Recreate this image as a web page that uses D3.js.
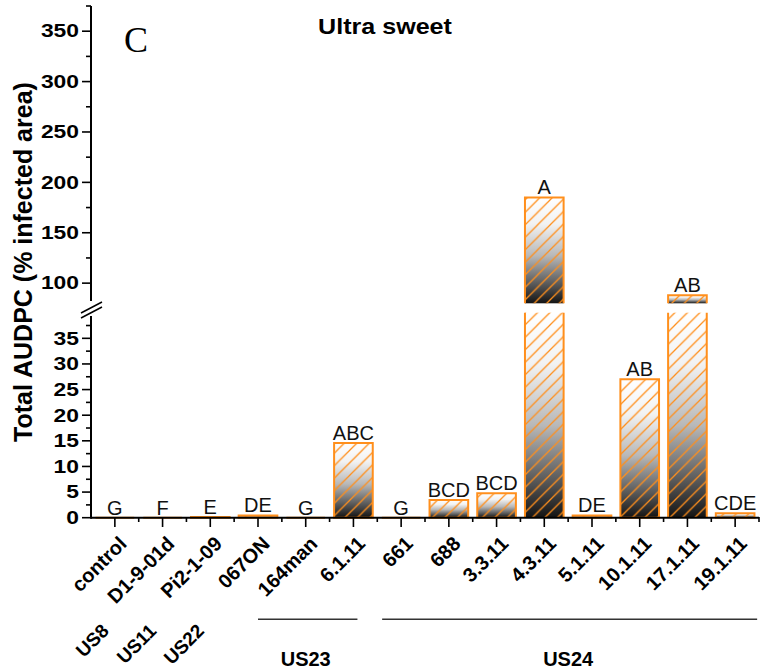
<!DOCTYPE html>
<html>
<head>
<meta charset="utf-8">
<script src="https://cdn.jsdelivr.net/npm/d3@7"></script>
<style>
  html, body { margin: 0; padding: 0; background: #fff; }
  svg { display: block; }
  text { font-family: "Liberation Sans", Arial, sans-serif; }
</style>
</head>
<body>
<svg id="chart" width="760" height="672"></svg>
<script>
// Isolates on the x axis
const isolates = ["control", "D1-9-01d", "Pi2-1-09", "067ON", "164man", "6.1.11",
  "661", "688", "3.3.11", "4.3.11", "5.1.11", "10.1.11", "17.1.11", "19.1.11"];
// Total AUDPC for each isolate on 'Ultra sweet'
const audpc = [0, 0, 0.15, 0.45, 0, 14.6, 0, 3.45, 4.75, 185, 0.45, 27, 88, 0.85];
// Significance letters above the bars
const letters = ["G", "F", "E", "DE", "G", "ABC", "G", "BCD", "BCD", "A", "DE", "AB", "AB", "CDE"];
// Single-isolate lineages written under their isolate
const singleLineages = [["US8", "control"], ["US11", "D1-9-01d"], ["US22", "Pi2-1-09"]];
// Lineages spanning several isolates, with the first and last isolate of the bracket
const lineageGroups = [["US23", "067ON", "6.1.11"], ["US24", "661", "19.1.11"]];
// Axis ticks on both sides of the break
const lowerTicks = [0, 5, 10, 15, 20, 25, 30, 35];
const upperTicks = [100, 150, 200, 250, 300, 350];

const svg = d3.select("#chart");
const orange = "#ff8f1c";
const left = 91, right = 759;

const x = d3.scaleBand().domain(isolates).range([left, right]).padding(0);
const barW = x.bandwidth() * 0.81;
const cx = d => x(d) + x.bandwidth() / 2;

// broken y axis: 0–40 below, 80–375 above
const yLow = d3.scaleLinear().domain([0, 40]).range([517.7, 312.7]);
const yHigh = d3.scaleLinear().domain([80, 375]).range([303.3, 6]);

const defs = svg.append("defs");
const grad = defs.append("linearGradient").attr("id", "shade")
  .attr("x1", 0).attr("y1", 0).attr("x2", 0).attr("y2", 1);
[[0, "#ffffff"], [0.25, "#f2f2f2"], [0.55, "#b8b8b8"], [0.8, "#606060"], [1, "#141414"]]
  .forEach(([o, c]) => grad.append("stop").attr("offset", o).attr("stop-color", c));
const hatch = defs.append("pattern").attr("id", "hatch")
  .attr("patternUnits", "userSpaceOnUse").attr("width", 12.5).attr("height", 12.5);
hatch.append("path").attr("d", "M-3,3 l6,-6 M0,12.5 l12.5,-12.5 M9.5,15.5 l6,-6")
  .attr("stroke", orange).attr("stroke-width", 1.3).attr("fill", "none");

// bars
const bars = svg.append("g");
isolates.forEach((name, i) => {
  const v = audpc[i];
  const x0 = cx(name) - barW / 2, x1 = x0 + barW;
  const segs = [];
  if (v <= 40) {
    segs.push({ top: yLow(v), bot: yLow(0), kind: "full" });
  } else {
    segs.push({ top: yLow(40), bot: yLow(0), kind: "lower" });
    segs.push({ top: yHigh(v), bot: yHigh(80), kind: "upper" });
  }
  segs.forEach(s => {
    const h = Math.max(s.bot - s.top, 0);
    if (h > 0.5) {
      bars.append("rect").attr("x", x0).attr("y", s.top).attr("width", barW).attr("height", h)
        .attr("fill", "url(#shade)");
      bars.append("rect").attr("x", x0).attr("y", s.top).attr("width", barW).attr("height", h)
        .attr("fill", "url(#hatch)");
    }
    let d;
    if (s.kind === "full") d = `M${x0},${s.bot}V${s.top}H${x1}V${s.bot}Z`;
    else if (s.kind === "lower") d = `M${x0},${s.bot}V${s.top}M${x1},${s.top}V${s.bot}`;
    else d = `M${x0},${s.bot}V${s.top}H${x1}V${s.bot}`;
    bars.append("path").attr("d", d).attr("fill", "none")
      .attr("stroke", orange).attr("stroke-width", 2);
  });
  const topY = v <= 40 ? yLow(v) : yHigh(v);
  bars.append("text").attr("x", cx(name)).attr("y", topY - 3)
    .attr("text-anchor", "middle").attr("font-size", 20).attr("fill", "#111")
    .text(letters[i]);
});

// x axis
const xAxis = svg.append("g");
xAxis.append("line").attr("x1", left).attr("x2", right).attr("y1", 517.7).attr("y2", 517.7)
  .attr("stroke", "#000").attr("stroke-width", 2);
isolates.forEach(name => {
  xAxis.append("line").attr("x1", cx(name)).attr("x2", cx(name))
    .attr("y1", 517).attr("y2", 527).attr("stroke", "#000").attr("stroke-width", 1.6);
  xAxis.append("line").attr("x1", x(name) + x.bandwidth()).attr("x2", x(name) + x.bandwidth())
    .attr("y1", 517).attr("y2", 522).attr("stroke", "#000").attr("stroke-width", 1.6);
  xAxis.append("text").attr("font-size", 20).attr("font-weight", "bold")
    .attr("text-anchor", "end")
    .attr("transform", `translate(${cx(name) + 13},${545}) rotate(-45)`)
    .text(name);
});

// y axis, drawn in two parts around the break
function yPart(scale, majors, minorStep, y0, y1) {
  const g = svg.append("g");
  g.append("line").attr("x1", left).attr("x2", left).attr("y1", y0).attr("y2", y1)
    .attr("stroke", "#000").attr("stroke-width", 2);
  const [lo, hi] = scale.domain();
  const minors = d3.range(Math.ceil(lo / minorStep) * minorStep, hi + 0.001, minorStep)
    .filter(v => !majors.includes(v) && (v % (minorStep * 2)) !== 0);
  minors.forEach(v => g.append("line").attr("x1", left - 5).attr("x2", left)
    .attr("y1", scale(v)).attr("y2", scale(v)).attr("stroke", "#000").attr("stroke-width", 1.6));
  majors.forEach(v => {
    g.append("line").attr("x1", left - 9).attr("x2", left)
      .attr("y1", scale(v)).attr("y2", scale(v)).attr("stroke", "#000").attr("stroke-width", 1.6);
    g.append("text").attr("font-size", 18).attr("font-weight", "bold").attr("text-anchor", "end")
      .attr("dy", "0.35em")
      .attr("transform", `translate(${left - 12},${scale(v)}) scale(1.27,1)`)
      .text(v);
  });
}
yPart(yLow, lowerTicks, 2.5, 518.7, 316);
yPart(yHigh, upperTicks, 25, 301, 6);

// break marks
svg.append("path").attr("d", "M81,313 L102,302 M81,318 L102,307")
  .attr("stroke", "#000").attr("stroke-width", 1.5).attr("fill", "none");

// axis title
svg.append("text").attr("font-size", 25).attr("font-weight", "bold").attr("text-anchor", "middle")
  .attr("transform", `translate(32,262) rotate(-90)`)
  .text("Total AUDPC (% infected area)");

// panel title and letter
svg.append("text").attr("font-size", 22).attr("font-weight", "bold").attr("text-anchor", "middle")
  .attr("transform", "translate(385,34) scale(1.14,1)").text("Ultra sweet");
svg.append("text").attr("x", 124).attr("y", 52).attr("font-size", 36)
  .style("font-family", "'Liberation Serif', 'Times New Roman', serif").text("C");

// lineage labels
singleLineages.forEach(([lab, iso]) => {
  svg.append("text").attr("font-size", 19).attr("font-weight", "bold").attr("text-anchor", "end")
    .attr("transform", `translate(${cx(iso) - 5},${632}) rotate(-45)`).text(lab);
});
lineageGroups.forEach(([lab, a, b], i) => {
  const xa = i === 0 ? cx(a) : cx(a) - 19;
  const xb = i === 0 ? cx(b) + 4 : cx(b) + 22;
  svg.append("line").attr("x1", xa).attr("x2", xb).attr("y1", 619.3).attr("y2", 619.3)
    .attr("stroke", "#333").attr("stroke-width", 1.4);
  svg.append("text").attr("font-size", 20).attr("font-weight", "bold").attr("text-anchor", "middle")
    .attr("x", (cx(a) + cx(b)) / 2).attr("y", 666).text(lab);
});
</script>
</body>
</html>
